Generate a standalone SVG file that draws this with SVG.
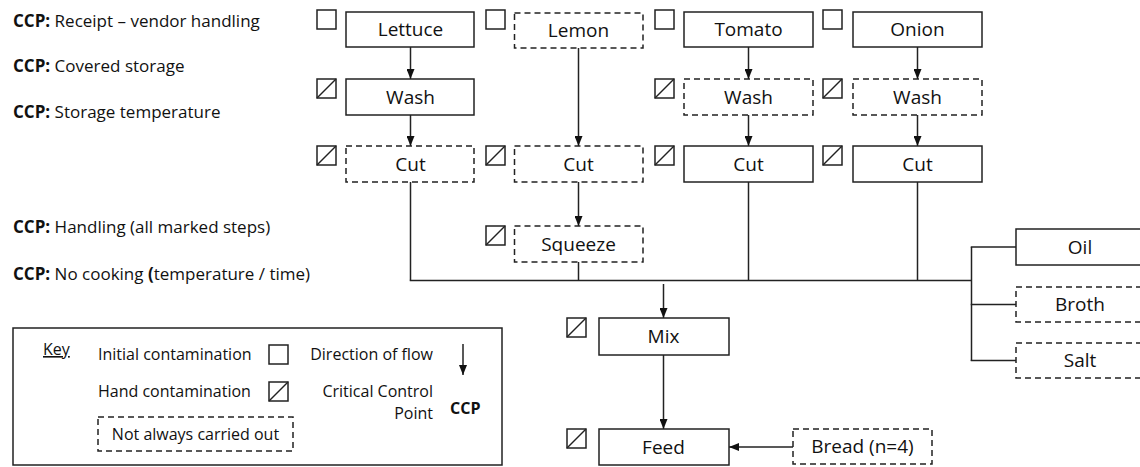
<svg xmlns="http://www.w3.org/2000/svg" width="1140" height="467" viewBox="0 0 1140 467">
<style>
text{font-family:"Open Sans","Noto Sans","Liberation Sans",sans-serif;fill:#111}
.lbl{font-size:19px;text-anchor:middle}
.ccp{font-size:17px}
.key{font-size:16px}
.b{font-weight:bold}
.box{fill:#fff;stroke:#222;stroke-width:1.5}
.dash{fill:#fff;stroke:#222;stroke-width:1.5;stroke-dasharray:6 4}
.cb{fill:#fff;stroke:#222;stroke-width:1.5}
.ln{fill:none;stroke:#222;stroke-width:1.5}
.arr{fill:none;stroke:#222;stroke-width:1.5;marker-end:url(#ah)}
</style>
<defs>
<marker id="ah" viewBox="0 0 10 8" refX="10" refY="4" markerWidth="10" markerHeight="8" markerUnits="userSpaceOnUse" orient="auto">
<path d="M0,0 L10,4 L0,8 z" fill="#111"/>
</marker>
<g id="ic"><rect class="cb" x="0" y="0" width="19" height="19"/></g>
<g id="hc"><rect class="cb" x="0" y="0" width="19" height="19"/><line class="ln" x1="0" y1="19" x2="19" y2="0"/></g>
</defs>

<g id="ccp-notes">
<text class="ccp" x="13" y="27"><tspan class="b">CCP:</tspan> Receipt – vendor handling</text>
<text class="ccp" x="13" y="72"><tspan class="b">CCP:</tspan> Covered storage</text>
<text class="ccp" x="13" y="118"><tspan class="b">CCP:</tspan> Storage temperature</text>
<text class="ccp" x="13" y="233"><tspan class="b">CCP:</tspan> Handling (all marked steps)</text>
<text class="ccp" x="13" y="280"><tspan class="b">CCP:</tspan> No cooking <tspan class="b">(</tspan>temperature / time)</text>
</g>

<g id="connectors">
<line class="arr" x1="410.5" y1="47" x2="410.5" y2="79"/>
<line class="arr" x1="410.5" y1="115" x2="410.5" y2="146"/>
<line class="arr" x1="578.5" y1="48" x2="578.5" y2="146"/>
<line class="arr" x1="578.5" y1="182" x2="578.5" y2="226"/>
<line class="arr" x1="748.5" y1="47" x2="748.5" y2="79"/>
<line class="arr" x1="748.5" y1="115" x2="748.5" y2="146"/>
<line class="arr" x1="917.5" y1="47" x2="917.5" y2="79"/>
<line class="arr" x1="917.5" y1="115" x2="917.5" y2="146"/>
<line class="ln" x1="410.5" y1="182" x2="410.5" y2="280.5"/>
<line class="ln" x1="578.5" y1="262" x2="578.5" y2="280.5"/>
<line class="ln" x1="748.5" y1="182" x2="748.5" y2="280.5"/>
<line class="ln" x1="917.5" y1="182" x2="917.5" y2="280.5"/>
<line class="ln" x1="409.75" y1="280.5" x2="971.5" y2="280.5"/>
<line class="ln" x1="971.5" y1="247" x2="971.5" y2="361"/>
<line class="ln" x1="970.75" y1="247" x2="1016" y2="247"/>
<line class="ln" x1="970.75" y1="304.5" x2="1016" y2="304.5"/>
<line class="ln" x1="970.75" y1="360.5" x2="1016" y2="360.5"/>
<line class="arr" x1="663.5" y1="284" x2="663.5" y2="318"/>
<line class="arr" x1="663.5" y1="355" x2="663.5" y2="429"/>
<line class="arr" x1="793" y1="447" x2="729" y2="447"/>
</g>

<g id="lettuce"><use href="#ic" x="317" y="10"/><rect class="box" x="346" y="12" width="128" height="35"/><text class="lbl" x="410.5" y="36">Lettuce</text></g>
<g id="lemon"><use href="#ic" x="486" y="10"/><rect class="dash" x="514.5" y="13" width="128.5" height="35"/><text class="lbl" x="578.5" y="37">Lemon</text></g>
<g id="tomato"><use href="#ic" x="655" y="10"/><rect class="box" x="684" y="12" width="129" height="35"/><text class="lbl" x="748.5" y="36">Tomato</text></g>
<g id="onion"><use href="#ic" x="823" y="10"/><rect class="box" x="853" y="12" width="129" height="35"/><text class="lbl" x="917.5" y="36">Onion</text></g>

<g id="lettuce-wash"><use href="#hc" x="317" y="79"/><rect class="box" x="346" y="79" width="128" height="36"/><text class="lbl" x="410.5" y="103.5">Wash</text></g>
<g id="tomato-wash"><use href="#hc" x="655" y="79"/><rect class="dash" x="684" y="79" width="129" height="36"/><text class="lbl" x="748.5" y="103.5">Wash</text></g>
<g id="onion-wash"><use href="#hc" x="823" y="79"/><rect class="dash" x="853" y="79" width="129" height="36"/><text class="lbl" x="917.5" y="103.5">Wash</text></g>

<g id="lettuce-cut"><use href="#hc" x="317" y="146"/><rect class="dash" x="346" y="146" width="128" height="36"/><text class="lbl" x="410.5" y="170.5">Cut</text></g>
<g id="lemon-cut"><use href="#hc" x="486" y="146"/><rect class="dash" x="514.5" y="146" width="128.5" height="36"/><text class="lbl" x="578.5" y="170.5">Cut</text></g>
<g id="tomato-cut"><use href="#hc" x="655" y="146"/><rect class="box" x="684" y="146" width="129" height="36"/><text class="lbl" x="748.5" y="170.5">Cut</text></g>
<g id="onion-cut"><use href="#hc" x="823" y="146"/><rect class="box" x="853" y="146" width="129" height="36"/><text class="lbl" x="917.5" y="170.5">Cut</text></g>

<g id="squeeze"><use href="#hc" x="486" y="226"/><rect class="dash" x="514.5" y="226" width="128.5" height="36"/><text class="lbl" x="578.5" y="250.5">Squeeze</text></g>

<g id="oil"><rect class="box" x="1016" y="229" width="140" height="36"/><text class="lbl" x="1080" y="253.5">Oil</text></g>
<g id="broth"><rect class="dash" x="1016" y="287" width="140" height="35"/><text class="lbl" x="1080" y="311">Broth</text></g>
<g id="salt"><rect class="dash" x="1016" y="343" width="140" height="35"/><text class="lbl" x="1080" y="367">Salt</text></g>

<g id="mix"><use href="#hc" x="567" y="318"/><rect class="box" x="599" y="318" width="130" height="37"/><text class="lbl" x="663.5" y="343">Mix</text></g>
<g id="feed"><use href="#hc" x="567" y="429"/><rect class="box" x="599" y="429" width="130" height="36"/><text class="lbl" x="663.5" y="453.5">Feed</text></g>
<g id="bread"><rect class="dash" x="793" y="429" width="139" height="35"/><text class="lbl" x="862.5" y="453">Bread (n=4)</text></g>

<g id="key">
<rect class="box" x="13" y="328" width="489" height="137"/>
<text class="key" x="43" y="355" text-decoration="underline">Key</text>
<text class="key" x="98" y="360">Initial contamination</text>
<use href="#ic" x="269" y="345"/>
<text class="key" x="98" y="397">Hand contamination</text>
<use href="#hc" x="269" y="382"/>
<rect class="dash" x="98" y="417" width="195" height="34"/>
<text class="key" x="195.5" y="440" text-anchor="middle">Not always carried out</text>
<text class="key" x="433" y="360" text-anchor="end">Direction of flow</text>
<line class="arr" x1="463" y1="344" x2="463" y2="375"/>
<text class="key" x="433" y="397" text-anchor="end">Critical Control</text>
<text class="key" x="433" y="419" text-anchor="end">Point</text>
<text class="key b" x="450" y="414">CCP</text>
</g>
</svg>
